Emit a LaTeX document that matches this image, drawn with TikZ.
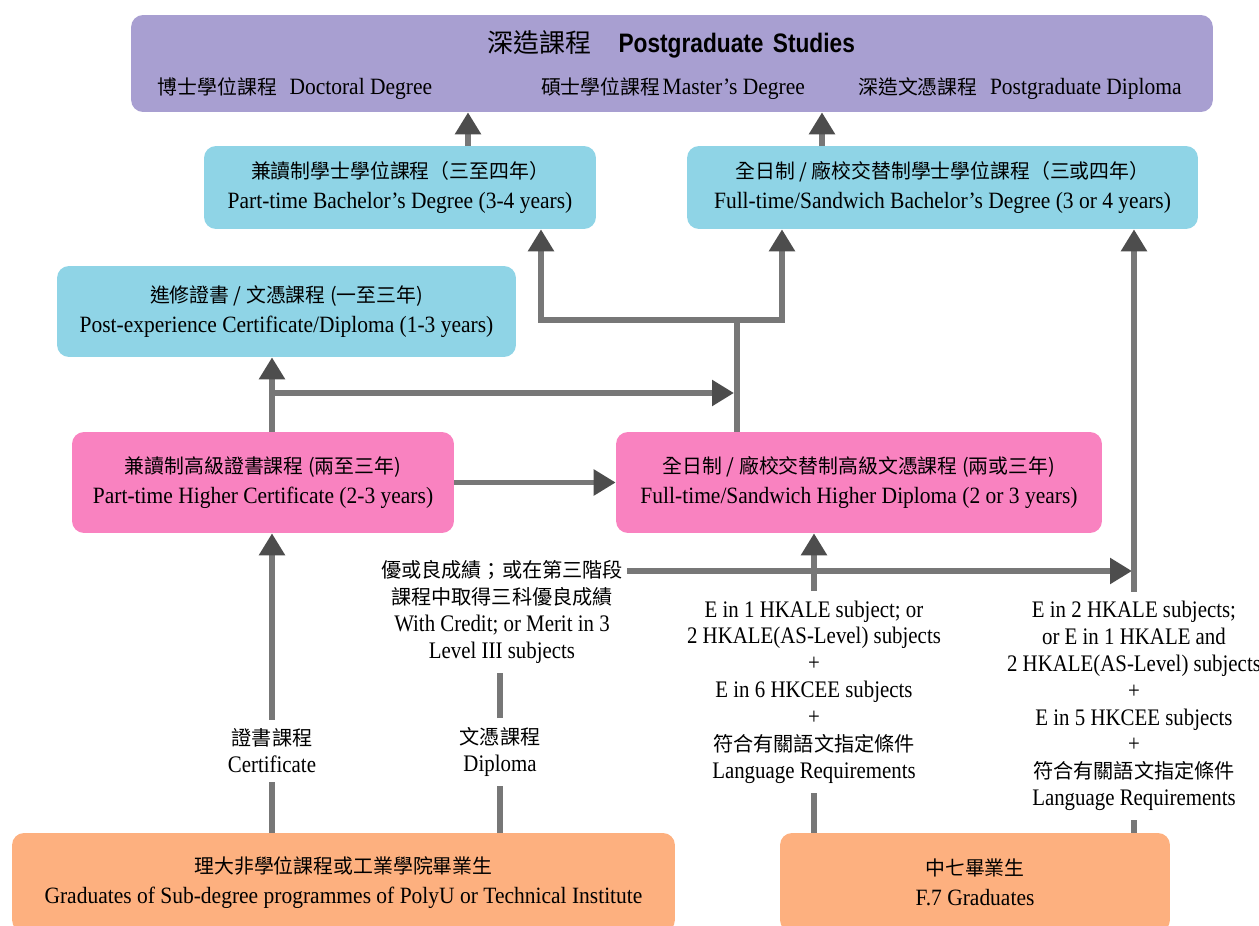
\documentclass[tikz,border=0pt]{standalone}
\usepackage{fontspec}
\setmainfont{Liberation Serif}[FakeStretch=0.88]
\setsansfont{Liberation Sans}[FakeStretch=0.85]
\newfontfamily\boxfont{Liberation Serif}[FakeStretch=0.92]
\newfontfamily\cjkfont{Noto Sans CJK TC}[Scale=0.85]
\newcommand\zh[1]{{\cjkfont #1}}
\usetikzlibrary{arrows.meta}
\definecolor{lavender}{HTML}{A89FD1}
\definecolor{skyblue}{HTML}{8FD4E6}
\definecolor{rosepink}{HTML}{F982C0}
\definecolor{peach}{HTML}{FDB07F}
\definecolor{linegray}{HTML}{777777}
\definecolor{tipgray}{HTML}{4D4D4D}
\tikzset{
    %Define standard arrow tip
    >={Triangle[width=0.5cm,length=0.44cm,color=tipgray]},
    %Define style for boxes
    box/.style={
           rectangle,
           rounded corners=0.24cm,
           align=center,
           inner sep=0pt,
           font=\boxfont\fontsize{13.3}{17}\selectfont},
    % Define style for entry conditions
    cond/.style={
           align=center,
           inner xsep=2pt,
           inner ysep=0.18cm,
           font=\fontsize{13.5}{15.3}\selectfont},
    % Define line and arrow style
    lin/.style={
           line width=0.11cm,
           draw=linegray},
    pil/.style={
           ->,
           lin}
}
\begin{document}
\begin{tikzpicture}[x=0.02cm, y=-0.02cm]
	\useasboundingbox (0,0) rectangle (1259,926);
	% postgraduate
	\node[box, fill=lavender, minimum width=21.64cm, minimum height=1.94cm] (pg) at (672,63.5) {};
	\node[font=\fontsize{17.4}{20}\selectfont] (pgtitle) at (671,44) {\zh{深造課程}\hspace{0.55cm}{\sffamily\bfseries\fontsize{15.2}{20}\selectfont Postgraduate\hspace{0.35em}Studies}};
	\node[font=\boxfont\fontsize{13.3}{17}\selectfont] (doc) at (295,89) {\zh{博士學位課程}\hspace{0.25cm}Doctoral Degree};
	\node[font=\boxfont\fontsize{13.3}{17}\selectfont] (mas) at (673,89) {\zh{碩士學位課程}\hspace{0.05cm}Master’s Degree};
	\node[font=\boxfont\fontsize{13.3}{17}\selectfont] (pgd) at (1020,89) {\zh{深造文憑課程}\hspace{0.25cm}Postgraduate Diploma};
	% bachelor
	\node[box, fill=skyblue, minimum width=7.84cm, minimum height=1.66cm] (ptb) at (400,187.5) {\zh{兼讀制學士學位課程（三至四年）}\\Part-time Bachelor’s Degree (3-4 years)};
	\node[box, fill=skyblue, minimum width=10.22cm, minimum height=1.66cm] (ftb) at (942.5,187.5) {\zh{全日制 / 廠校交替制學士學位課程（三或四年）}\\Full-time/Sandwich Bachelor’s Degree (3 or 4 years)};
	\node[box, fill=skyblue, minimum width=9.18cm, minimum height=1.82cm] (pec) at (286.5,311.5) {\zh{進修證書 / 文憑課程 (一至三年)}\\Post-experience Certificate/Diploma (1-3 years)};
	% sub-degree
	\node[box, fill=rosepink, minimum width=7.64cm, minimum height=2.02cm] (phc) at (263,482.5) {\zh{兼讀制高級證書課程 (兩至三年)}\\Part-time Higher Certificate (2-3 years)};
	\node[box, fill=rosepink, minimum width=9.72cm, minimum height=2.02cm] (fhd) at (859,482.5) {\zh{全日制 / 廠校交替制高級文憑課程 (兩或三年)}\\Full-time/Sandwich Higher Diploma (2 or 3 years)};
	% graduates
	\node[box, fill=peach, minimum width=13.26cm, minimum height=1.98cm] (gsd) at (343.5,882.5) {\zh{理大非學位課程或工業學院畢業生}\\Graduates of Sub-degree programmes of PolyU or Technical Institute};
	\node[box, fill=peach, minimum width=7.8cm, minimum height=1.98cm] (f7) at (975,882.5) {\zh{中七畢業生}\\F.7 Graduates};
	% entry conditions
	\node[cond] (cert) at (272,751) {\zh{證書課程}\\Certificate};
	\node[cond] (dip) at (500,752) {\zh{文憑課程}\\Diploma};
	\node[cond] (credit) at (502,612) {\zh{優或良成績；或在第三階段}\\\zh{課程中取得三科優良成績}\\With Credit; or Merit in 3\\Level III subjects};
	\node[cond] (hk1) at (814,692) {E in 1 HKALE subject; or\\2 HKALE(AS-Level) subjects\\+\\E in 6 HKCEE subjects\\+\\\zh{符合有關語文指定條件}\\Language Requirements};
	\node[cond] (hk2) at (1134,706) {E in 2 HKALE subjects;\\or E in 1 HKALE and\\2 HKALE(AS-Level) subjects\\+\\E in 5 HKCEE subjects\\+\\\zh{符合有關語文指定條件}\\Language Requirements};
	% junctions
	\coordinate (j1) at (272,393);
	\coordinate (j2) at (734,393);
	\coordinate (j3) at (737,320);
	\coordinate (j4) at (541,320);
	\coordinate (j5) at (782,320);
	\coordinate (j6) at (1132,571);
	% connectors
	\draw[pil] (phc.north -| j1) -- (pec.south -| j1);
	\draw[pil] (j1) -- (j2);
	\draw[pil] (fhd.north -| j3) -- (j3) -- (j4) -- (ptb.south -| j4);
	\draw[pil] (j3) -- (j5) -- (ftb.south -| j5);
	\draw[pil] (ptb.north -| 468,0) -- (pg.south -| 468,0);
	\draw[pil] (ftb.north -| 822,0) -- (pg.south -| 822,0);
	\draw[pil] (phc) -- (fhd);
	\draw[lin] (gsd.north -| cert) -- (cert);
	\draw[pil] (cert) -- (phc.south -| cert);
	\draw[lin] (gsd.north -| dip) -- (dip);
	\draw[lin] (dip) -- (credit.south -| dip);
	\draw[pil] (credit.east |- j6) -- (j6);
	\draw[lin] (f7.north -| hk1) -- (hk1);
	\draw[pil] (hk1) -- (fhd.south -| hk1);
	\draw[lin] (f7.north -| hk2) -- (hk2);
	\draw[pil] (hk2) -- (ftb.south -| hk2);
\end{tikzpicture}
\end{document}
